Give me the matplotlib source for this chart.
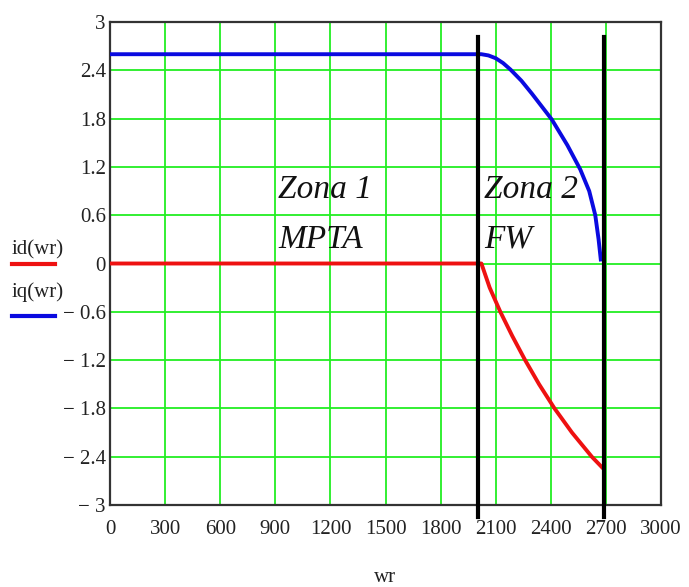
import matplotlib
matplotlib.use("Agg")
import matplotlib.pyplot as plt
from matplotlib.lines import Line2D
import numpy as np

# data
wr_iq = [0, 2022, 2060, 2100, 2140, 2180, 2240, 2297, 2405, 2490, 2560, 2609, 2642, 2660, 2672]
iq_vals = [2.60, 2.60, 2.585, 2.55, 2.49, 2.41, 2.27, 2.11, 1.79, 1.47, 1.17, 0.90, 0.60, 0.30, 0.05]
wr_id = [0, 2022, 2067, 2125, 2190, 2260, 2336, 2420, 2515, 2623, 2678]
id_vals = [0.0, 0.0, -0.30, -0.60, -0.90, -1.20, -1.50, -1.80, -2.10, -2.40, -2.53]
zone_lines = [2005, 2690]
x_ticks = np.arange(0, 3001, 300)
y_ticks = np.round(np.arange(-3, 3.01, 0.6), 1)

plt.rcParams["font.family"] = ["Liberation Serif", "DejaVu Serif"]

fig = plt.figure(figsize=(6.89, 5.87), dpi=100)
ax = fig.add_axes([0.1597, 0.1397, 0.7997, 0.8228])

ax.set_xlim(0, 3000)
ax.set_ylim(-3, 3)
ax.set_xticks(x_ticks)
ax.set_xticklabels([f"{int(t)}" for t in x_ticks])
ax.set_yticks(y_ticks)
ax.set_yticklabels([("\u2212 " + f"{abs(t):g}") if t < 0 else f"{t:g}" for t in y_ticks])
ax.tick_params(length=0, labelsize=15, colors="#222222")
ax.tick_params(axis="x", pad=11)
ax.tick_params(axis="y", pad=3)
ax.grid(True, color="#22ee22", linewidth=1.3)
ax.set_axisbelow(True)
for sp in ax.spines.values():
    sp.set_color("#333333")
    sp.set_linewidth(1.6)

ax.plot(wr_id, id_vals, color="#ee1111", linewidth=2.8, zorder=3)
ax.plot(wr_iq, iq_vals, color="#0a0ae0", linewidth=2.8, zorder=3)

for xv in zone_lines:
    ax.plot([xv, xv], [2.81, -3.15], color="black", linewidth=3, clip_on=False, zorder=4)

txt = dict(fontsize=24, style="italic", va="center", ha="left", color="#111111")
ax.text(915, 0.92, "Zona 1", **txt)
ax.text(915, 0.3, "MPTA", **txt)
ax.text(2035, 0.92, "Zona 2", **txt)
ax.text(2035, 0.3, "FW", **txt)

fig.text(385 / 689, 1 - 578 / 587, "wr", fontsize=15, ha="center", va="center", color="#222222")

# left-side legend, MathCad style
fig.text(38 / 689, 1 - 250 / 587, "id(wr)", fontsize=15, ha="center", va="center", color="#222222")
fig.add_artist(Line2D([12 / 689, 55 / 689], [1 - 264 / 587, 1 - 264 / 587],
                      color="#ee1111", linewidth=3, transform=fig.transFigure))
fig.text(38 / 689, 1 - 292 / 587, "iq(wr)", fontsize=15, ha="center", va="center", color="#222222")
fig.add_artist(Line2D([12 / 689, 55 / 689], [1 - 316 / 587, 1 - 316 / 587],
                      color="#0a0ae0", linewidth=3, transform=fig.transFigure))

fig.savefig("out.png", dpi=100)
